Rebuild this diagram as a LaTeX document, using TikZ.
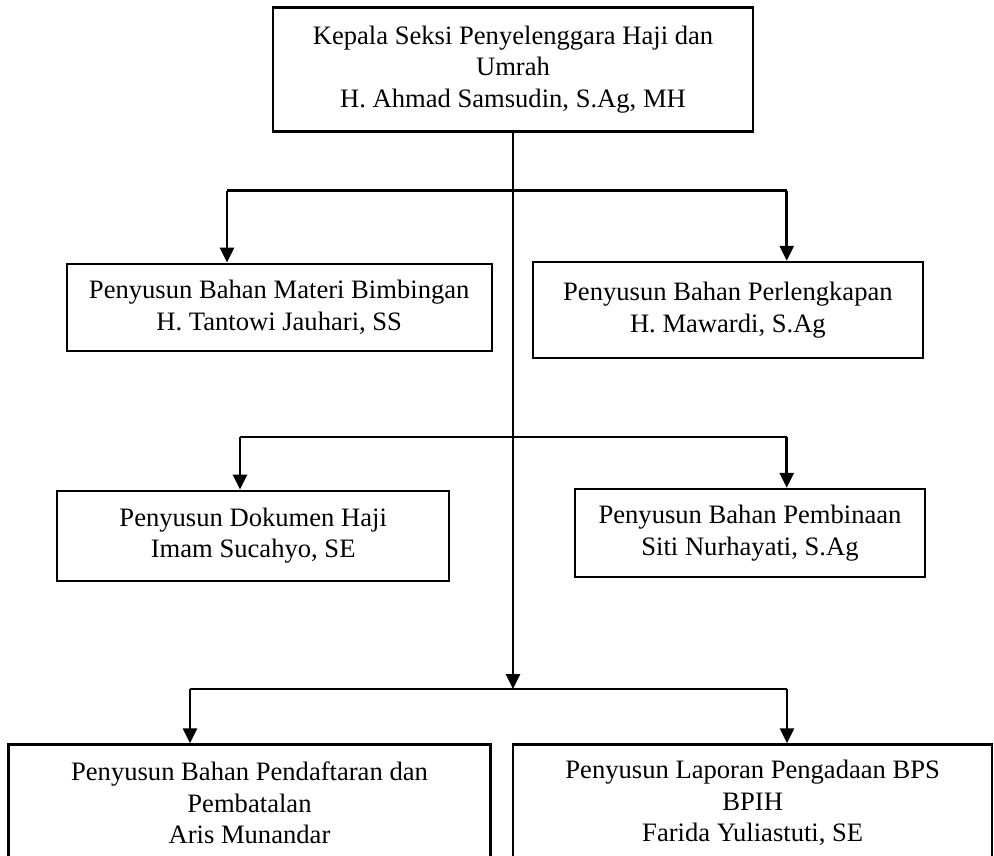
\documentclass[tikz,border=0pt]{standalone}
\usepackage{fontspec}
\setmainfont{Liberation Serif}
\usetikzlibrary{arrows.meta}

\begin{document}
\begin{tikzpicture}[x=1pt,y=-1pt, >={Triangle[length=15pt,width=14pt]}, garis/.style={line width=2.8pt}, panah/.style={garis,->}]

    \tikzset{jabatan/.style={draw=black,line width=2.4pt,rectangle,align=center,inner sep=0pt,font=\fontsize{26.6pt}{31.7pt}\selectfont}}

    \path[use as bounding box, clip] (0,0) rectangle (994,855);

    \node[jabatan, minimum width=480pt, minimum height=124pt] (kepala)      at (513,69.5)    {Kepala Seksi Penyelenggara Haji dan\\Umrah\\H. Ahmad Samsudin, S.Ag, MH};
    \node[jabatan, minimum width=425pt, minimum height=87pt]  (materi)      at (279.2,307.3) {Penyusun Bahan Materi Bimbingan\\H. Tantowi Jauhari, SS};
    \node[jabatan, minimum width=390pt, minimum height=96pt]  (perlengkapan) at (727.9,310)  {Penyusun Bahan Perlengkapan\\H. Mawardi, S.Ag};
    \node[jabatan, minimum width=392pt, minimum height=90pt]  (dokumen)     at (253.2,535.7) {Penyusun Dokumen Haji\\Imam Sucahyo, SE};
    \node[jabatan, minimum width=350pt, minimum height=88pt]  (pembinaan)   at (750,533)     {Penyusun Bahan Pembinaan\\Siti Nurhayati, S.Ag};
    \node[jabatan, minimum width=482pt, minimum height=117pt] (pendaftaran) at (249.5,803)   {Penyusun Bahan Pendaftaran dan\\Pembatalan\\Aris Munandar};
    \node[jabatan, minimum width=479pt, minimum height=117pt] (laporan)     at (752.7,803)   {Penyusun Laporan Pengadaan BPS\\BPIH\\Farida Yuliastuti, SE};

    \coordinate (b1l) at (227,190.7);
    \coordinate (b1r) at (786.7,190.7);
    \coordinate (b2l) at (240,437);
    \coordinate (b2r) at (786.7,437);
    \coordinate (b3l) at (190,689);
    \coordinate (b3r) at (787,689);

    \draw[garis] (b1l) -- (b1r)
                 (b2l) -- (b2r)
                 (b3l) -- (b3r);
    \draw[panah] (kepala.south) -- (kepala.south |- b3l);

    \draw[panah] (b1l) -- (b1l |- materi.north);
    \draw[panah] (b1r) -- (b1r |- perlengkapan.north);
    \draw[panah] (b2l) -- (b2l |- dokumen.north);
    \draw[panah] (b2r) -- (b2r |- pembinaan.north);
    \draw[panah] (b3l) -- (b3l |- pendaftaran.north);
    \draw[panah] (b3r) -- (b3r |- laporan.north);
\end{tikzpicture}
\end{document}
